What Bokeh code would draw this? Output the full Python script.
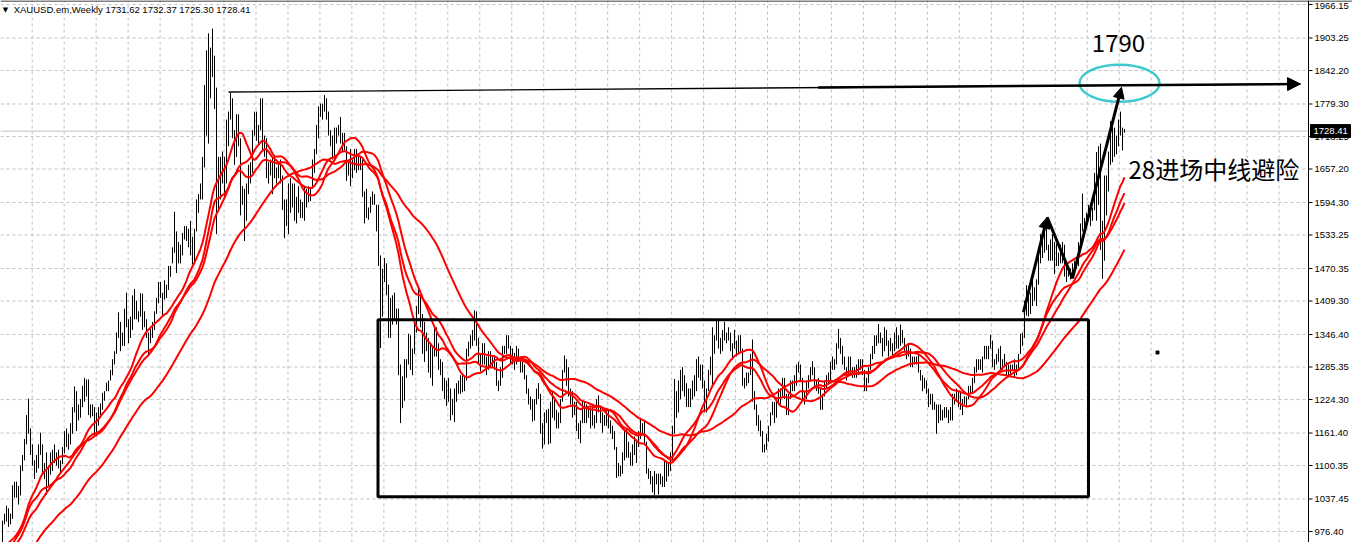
import numpy as np
import pandas as pd
from bokeh.plotting import figure
from bokeh.models import Range1d, Arrow, NormalHead
from bokeh.core.properties import value
from bokeh.embed import file_html
from bokeh.resources import INLINE

# ---------------- data ----------------
symbol_title = "XAUUSD.em,Weekly"
last_ohlc = [1731.62, 1732.37, 1725.30, 1728.41]
price_ticks = [1966.15, 1903.25, 1842.20, 1779.30, 1718.25, 1657.20, 1594.30, 1533.25,
               1470.35, 1409.30, 1346.40, 1285.35, 1224.30, 1161.40, 1100.35, 1037.45, 976.40]

# weekly closes before the first visible bar (only feed the moving averages)
pre_close = [960, 955, 925, 910, 865, 795, 835, 830, 800, 760, 865, 885,
             840, 900, 810, 790, 730, 740, 745, 790, 815, 775, 825, 840, 865, 880,
             855, 840, 850, 895, 920, 915, 940, 990, 985, 940, 925, 955, 925,
             895, 880, 870, 910, 915, 930, 960, 980, 960, 935, 935, 940,
             930, 915, 935, 950, 955, 955, 945, 940, 950]

high = [
    997, 1010, 1025, 1020, 1010, 1063, 1070, 1070, 1062, 1100, 1120, 1150, 1195, 1226, 1170, 1140, 1110, 1120,
    1140, 1162, 1140, 1105, 1125, 1100, 1125, 1130, 1140, 1125, 1130, 1110, 1135, 1165, 1170, 1160, 1180, 1210,
    1249, 1240, 1215, 1225, 1250, 1265, 1262, 1262, 1215, 1215, 1210, 1200, 1210, 1217, 1237, 1240, 1256, 1260,
    1280, 1300, 1315, 1350, 1388, 1370, 1350, 1395, 1425, 1375, 1380, 1420, 1432, 1410, 1390, 1424,
    1423, 1390, 1375, 1350, 1360, 1370, 1390, 1415, 1445, 1445, 1425, 1448, 1440, 1475, 1475, 1510, 1577, 1540,
    1520, 1515, 1537, 1550, 1550, 1545, 1560, 1530, 1545, 1600, 1610, 1630, 1680, 1815, 1880, 1912, 1885, 1921,
    1870, 1810, 1680, 1680, 1690, 1680, 1750, 1765, 1800, 1790, 1730, 1760, 1760, 1715, 1625, 1620,
    1630, 1665, 1670, 1730, 1765, 1765, 1740, 1790, 1790, 1720, 1715, 1670, 1675, 1680, 1680, 1660, 1665, 1675,
    1645, 1600, 1600, 1630, 1640, 1630, 1630, 1605, 1625, 1600, 1595, 1625, 1620, 1625, 1620, 1675, 1695, 1740,
    1775, 1780, 1780, 1796, 1790, 1765, 1730, 1720, 1735, 1735, 1740, 1755, 1725, 1725, 1700, 1670, 1695,
    1675, 1695, 1695, 1680, 1680, 1675, 1615, 1620, 1585, 1605, 1615, 1610, 1590, 1590, 1495, 1470, 1490, 1480,
    1440, 1415, 1420, 1425, 1395, 1395, 1290, 1268, 1300, 1300, 1348, 1345, 1320, 1375, 1400, 1433, 1420, 1385,
    1370, 1350, 1340, 1330, 1325, 1360, 1360, 1330, 1300, 1295, 1265, 1260, 1265, 1245, 1225, 1245,
    1255, 1260, 1270, 1270, 1270, 1320, 1333, 1345, 1355, 1392, 1390, 1340, 1310, 1330, 1330, 1305, 1315, 1315,
    1305, 1305, 1295, 1260, 1285, 1325, 1325, 1345, 1345, 1325, 1320, 1312, 1325, 1320, 1305, 1295, 1290, 1270,
    1245, 1230, 1225, 1225, 1245, 1255, 1235, 1180, 1200, 1205, 1207, 1220, 1238, 1225, 1205, 1200,
    1225, 1280, 1307, 1300, 1285, 1245, 1240, 1220, 1220, 1180, 1185, 1220, 1220, 1215, 1210, 1210, 1215, 1195,
    1225, 1232, 1210, 1200, 1195, 1205, 1205, 1185, 1175, 1165, 1135, 1105, 1100, 1125, 1165, 1170, 1145, 1125,
    1140, 1155, 1145, 1165, 1190, 1180, 1185, 1145, 1095, 1090, 1080, 1090, 1085, 1085, 1085, 1080,
    1110, 1105, 1105, 1125, 1175, 1263, 1240, 1260, 1280, 1285, 1270, 1255, 1245, 1245, 1260, 1270, 1300, 1305,
    1290, 1290, 1260, 1245, 1280, 1305, 1360, 1345, 1375, 1375, 1340, 1355, 1370, 1350, 1360, 1350, 1330, 1355,
    1335, 1345, 1345, 1320, 1265, 1275, 1275, 1310, 1337, 1240, 1215, 1195, 1185, 1165, 1140, 1160,
    1175, 1200, 1220, 1220, 1225, 1245, 1245, 1265, 1265, 1235, 1235, 1260, 1260, 1270, 1290, 1295, 1290, 1265,
    1240, 1260, 1270, 1285, 1296, 1285, 1260, 1265, 1245, 1235, 1260, 1270, 1275, 1295, 1305, 1300, 1330, 1357,
    1340, 1325, 1305, 1285, 1305, 1305, 1285, 1285, 1290, 1300, 1300, 1300, 1280, 1265, 1285, 1310,
    1325, 1345, 1345, 1366, 1350, 1340, 1360, 1355, 1335, 1340, 1330, 1350, 1360, 1345, 1365, 1355, 1340, 1325,
    1330, 1320, 1305, 1305, 1305, 1310, 1280, 1270, 1265, 1260, 1245, 1235, 1235, 1220, 1215, 1215, 1215, 1205,
    1210, 1210, 1205, 1210, 1235, 1235, 1245, 1240, 1237, 1225, 1230, 1230, 1250, 1250, 1265, 1285,
    1300, 1300, 1300, 1305, 1325, 1325, 1325, 1346, 1335, 1300, 1310, 1320, 1325, 1300, 1310, 1295, 1290, 1290,
    1290, 1300, 1290, 1310, 1348, 1350, 1410, 1439, 1437, 1425, 1453, 1435, 1450, 1510, 1535, 1530, 1550, 1557,
    1515, 1525, 1535, 1520, 1517, 1500, 1515, 1520, 1515, 1475, 1475, 1470, 1480, 1485, 1485, 1520,
    1555, 1611, 1565, 1575, 1590, 1590, 1585, 1650, 1689, 1700, 1705, 1560, 1645, 1645, 1690, 1747, 1740, 1735,
    1720, 1750, 1765, 1735, 1732.37]

low = [
    951, 990, 995, 985, 990, 1000, 1040, 1040, 1027, 1044, 1090, 1110, 1140, 1160, 1120, 1100, 1075, 1087,
    1095, 1120, 1086, 1075, 1045, 1060, 1083, 1090, 1105, 1100, 1095, 1088, 1103, 1123, 1135, 1130, 1140, 1160,
    1200, 1165, 1185, 1190, 1210, 1220, 1230, 1195, 1190, 1193, 1157, 1155, 1175, 1190, 1205, 1222, 1240, 1240,
    1260, 1270, 1290, 1310, 1340, 1315, 1325, 1325, 1360, 1330, 1340, 1355, 1375, 1375, 1370, 1380,
    1355, 1360, 1340, 1308, 1330, 1340, 1355, 1385, 1405, 1415, 1380, 1412, 1415, 1430, 1455, 1480, 1500, 1462,
    1480, 1480, 1495, 1525, 1522, 1510, 1495, 1478, 1480, 1540, 1575, 1600, 1600, 1660, 1720, 1705, 1790, 1830,
    1770, 1535, 1580, 1600, 1630, 1605, 1630, 1700, 1750, 1715, 1665, 1680, 1700, 1570, 1590, 1522,
    1560, 1610, 1630, 1650, 1720, 1710, 1705, 1730, 1690, 1680, 1640, 1630, 1645, 1610, 1640, 1630, 1640, 1630,
    1580, 1527, 1550, 1535, 1575, 1585, 1560, 1555, 1575, 1565, 1565, 1560, 1585, 1595, 1597, 1620, 1650, 1685,
    1715, 1755, 1750, 1765, 1750, 1720, 1700, 1675, 1675, 1705, 1720, 1705, 1690, 1690, 1635, 1645, 1625,
    1640, 1655, 1650, 1655, 1655, 1605, 1555, 1565, 1562, 1575, 1590, 1590, 1540, 1475, 1321, 1380, 1445, 1420,
    1340, 1340, 1365, 1375, 1365, 1270, 1180, 1208, 1222, 1265, 1290, 1280, 1270, 1310, 1350, 1385, 1360, 1310,
    1295, 1315, 1275, 1265, 1250, 1305, 1305, 1280, 1270, 1240, 1225, 1212, 1220, 1185, 1195, 1182,
    1220, 1235, 1235, 1238, 1240, 1260, 1305, 1320, 1325, 1335, 1325, 1290, 1277, 1290, 1290, 1270, 1280, 1285,
    1285, 1280, 1250, 1240, 1250, 1265, 1310, 1310, 1320, 1290, 1290, 1280, 1290, 1300, 1275, 1275, 1262, 1235,
    1215, 1205, 1183, 1185, 1215, 1225, 1160, 1132, 1140, 1180, 1140, 1142, 1190, 1185, 1170, 1170,
    1180, 1220, 1275, 1250, 1230, 1215, 1190, 1195, 1165, 1150, 1142, 1180, 1180, 1180, 1190, 1170, 1175, 1170,
    1180, 1200, 1180, 1162, 1175, 1175, 1170, 1160, 1150, 1130, 1077, 1080, 1080, 1085, 1110, 1115, 1115, 1100,
    1100, 1120, 1105, 1135, 1150, 1160, 1140, 1085, 1075, 1065, 1050, 1045, 1065, 1046, 1065, 1060,
    1060, 1070, 1080, 1090, 1110, 1160, 1190, 1200, 1225, 1240, 1230, 1210, 1210, 1210, 1225, 1230, 1240, 1265,
    1260, 1245, 1200, 1200, 1240, 1270, 1250, 1310, 1335, 1320, 1310, 1315, 1335, 1330, 1335, 1315, 1300, 1320,
    1305, 1310, 1315, 1250, 1245, 1250, 1255, 1270, 1220, 1205, 1175, 1165, 1155, 1125, 1125, 1130,
    1145, 1175, 1195, 1180, 1190, 1215, 1215, 1230, 1225, 1195, 1195, 1225, 1240, 1240, 1250, 1275, 1260, 1225,
    1215, 1225, 1245, 1260, 1270, 1250, 1240, 1235, 1205, 1205, 1230, 1245, 1255, 1260, 1280, 1280, 1290, 1320,
    1310, 1290, 1280, 1260, 1270, 1275, 1265, 1265, 1265, 1270, 1280, 1270, 1240, 1240, 1255, 1280,
    1300, 1310, 1325, 1330, 1330, 1305, 1315, 1325, 1305, 1315, 1305, 1315, 1320, 1320, 1325, 1330, 1315, 1300,
    1305, 1285, 1285, 1290, 1290, 1275, 1260, 1240, 1245, 1235, 1210, 1215, 1205, 1205, 1160, 1180, 1185, 1185,
    1190, 1190, 1180, 1185, 1185, 1215, 1220, 1210, 1205, 1195, 1215, 1210, 1225, 1235, 1235, 1255,
    1275, 1280, 1280, 1275, 1300, 1300, 1300, 1320, 1285, 1280, 1290, 1295, 1280, 1280, 1285, 1270, 1266, 1266,
    1280, 1265, 1270, 1280, 1310, 1325, 1340, 1382, 1380, 1385, 1400, 1410, 1400, 1440, 1480, 1490, 1500, 1505,
    1485, 1485, 1485, 1460, 1475, 1475, 1480, 1480, 1455, 1445, 1455, 1450, 1455, 1460, 1470, 1475,
    1515, 1540, 1535, 1550, 1560, 1550, 1560, 1580, 1560, 1590, 1505, 1451, 1485, 1570, 1615, 1665, 1670, 1680,
    1685, 1700, 1720, 1692, 1725.30]

# hand-drawn annotations (bar index, price)
box_bars = [187.75, 543.0]
box_prices = [1041.6, 1374.0]
resist_bars = [113.0, 649.0]
resist_prices = [1801.8, 1816.9]
swing_bars = [510.5, 522.35, 535.0, 559.5]
swing_prices = [1388.3, 1566.7, 1451.6, 1810.8]
circle_center = [558.5, 1818.3]
circle_size = [40.0, 69.5]
label_1790_pos = [558.0, 1893.0]
note_pos = [563.0, 1658.2]
dot_pos = [577.5, 1312.6]

# ---------------- derived series ----------------
n = len(high)
idx = np.arange(n)
hi = np.array(high, dtype=float)
lo = np.array(low, dtype=float)
mid = (hi + lo) / 2.0
full = pd.Series(list(pre_close) + list(mid), dtype=float)
npre = len(pre_close)
sma20 = full.rolling(20).mean().values[npre:]
sma30 = full.rolling(30).mean().values[npre:]
ema30 = full.ewm(span=30, adjust=False).mean().values[npre:]
sma60 = full.rolling(60).mean().values[npre:]

# ---------------- figure ----------------
X0, X1 = -1.0, 675.0          # bar-index range across the whole canvas (2 px per bar)
Y0, Y1 = 955.79, 1973.66      # price range (about 1.878 per px)
AXIS_X = 653.0                # price scale border
PX = (Y1 - Y0) / 542.0        # price per pixel

p = figure(width=1352, height=542, x_range=Range1d(X0, X1), y_range=Range1d(Y0, Y1),
           output_backend="svg", toolbar_location=None,
           x_axis_location=None, y_axis_location=None,
           min_border_left=0, min_border_right=0, min_border_top=0, min_border_bottom=0)
p.grid.visible = False
p.outline_line_color = None
p.background_fill_color = "white"
p.border_fill_color = "white"

# dashed grid
grid_x = [14.85 + 15.985 * k for k in range(41) if 14.85 + 15.985 * k < AXIS_X]
p.segment(x0=grid_x, y0=[Y0] * len(grid_x), x1=grid_x, y1=[Y1] * len(grid_x),
          line_color="#c0c0c0", line_width=1, line_dash="3 3")
p.segment(x0=[X0] * len(price_ticks), y0=price_ticks, x1=[AXIS_X] * len(price_ticks), y1=price_ticks,
          line_color="#c0c0c0", line_width=1, line_dash="3 3")

# last price line
p.segment(x0=[X0], y0=[last_ohlc[3]], x1=[AXIS_X], y1=[last_ohlc[3]], line_color="#c0c0c0", line_width=1)

# price bars
p.segment(x0=idx, y0=lo, x1=idx, y1=hi, line_color="black", line_width=1)

# moving averages
for ma in (sma60, ema30, sma30, sma20):
    p.line(idx, ma, line_color="#ff0000", line_width=2)

# consolidation box
p.quad(left=[box_bars[0]], right=[box_bars[1]], bottom=[box_prices[0]], top=[box_prices[1]],
       fill_color=None, line_color="black", line_width=3)

# resistance line with arrow (thin from the left, heavier towards the arrow)
p.segment(x0=[resist_bars[0]], y0=[resist_prices[0]], x1=[resist_bars[1]], y1=[resist_prices[1]],
          line_color="black", line_width=1.3)
t = 0.55
rx = resist_bars[0] + t * (resist_bars[1] - resist_bars[0])
ry = resist_prices[0] + t * (resist_prices[1] - resist_prices[0])
p.add_layout(Arrow(end=NormalHead(size=13, fill_color="black", line_color="black"),
                   x_start=rx, y_start=ry, x_end=resist_bars[1], y_end=resist_prices[1],
                   line_color="black", line_width=2.5))

# swing arrows
p.add_layout(Arrow(end=NormalHead(size=11, fill_color="black", line_color="black"),
                   x_start=swing_bars[0], y_start=swing_prices[0],
                   x_end=swing_bars[1], y_end=swing_prices[1],
                   line_color="black", line_width=3))
p.line(swing_bars[1:3], swing_prices[1:3], line_color="black", line_width=3)
p.add_layout(Arrow(end=NormalHead(size=11, fill_color="black", line_color="black"),
                   x_start=swing_bars[2], y_start=swing_prices[2],
                   x_end=swing_bars[3], y_end=swing_prices[3],
                   line_color="black", line_width=3))

# target ellipse
p.ellipse(x=[circle_center[0]], y=[circle_center[1]], width=circle_size[0], height=circle_size[1],
          fill_color=None, line_color="#3ec9cf", line_width=2.5)

p.scatter(x=[dot_pos[0]], y=[dot_pos[1]], marker="square", size=3, color="black")

p.text(x=[label_1790_pos[0]], y=[label_1790_pos[1]], text=["1790"],
       text_align="center", text_baseline="middle",
       text_font=value("Noto Sans CJK SC"), text_font_size="24px", text_color="black")
p.text(x=[note_pos[0]], y=[note_pos[1]], text=["28进场中线避险"],
       text_align="left", text_baseline="middle",
       text_font=value("Noto Sans CJK SC"), text_font_size="24px", text_color="black")

# header
hdr_y = Y1 - 9 * PX
p.text(x=[1.5], y=[hdr_y], text=["▼"], text_align="center", text_baseline="middle",
       text_font=value("DejaVu Sans"), text_font_size="7px", text_color="black")
p.text(x=[5.6], y=[hdr_y],
       text=[symbol_title + "  " + " ".join("%.2f" % v for v in last_ohlc)],
       text_align="left", text_baseline="middle",
       text_font=value("Liberation Sans"), text_font_size="9.5px", text_color="black")

# top border
p.segment(x0=[X0], y0=[Y1 - 0.5 * PX], x1=[X1], y1=[Y1 - 0.5 * PX], line_color="black", line_width=1)

# price scale on the right
p.segment(x0=[AXIS_X], y0=[Y0], x1=[AXIS_X], y1=[Y1], line_color="black", line_width=1)
p.segment(x0=[AXIS_X] * len(price_ticks), y0=price_ticks,
          x1=[AXIS_X + 2.0] * len(price_ticks), y1=price_ticks, line_color="black", line_width=1)
tick_text = ["%.2f" % v for v in price_ticks]
p.text(x=[AXIS_X + 3.0], y=[price_ticks[0]], text=[tick_text[0]], y_offset=2,
       text_align="left", text_baseline="middle",
       text_font=value("Liberation Sans"), text_font_size="9.5px", text_color="black")
p.text(x=[AXIS_X + 3.0] * (len(price_ticks) - 1), y=price_ticks[1:], text=tick_text[1:],
       text_align="left", text_baseline="middle",
       text_font=value("Liberation Sans"), text_font_size="9.5px", text_color="black")

# current price tag
p.quad(left=[AXIS_X + 1.0], right=[AXIS_X + 21.0],
       bottom=[last_ohlc[3] - 6.5 * PX], top=[last_ohlc[3] + 6.5 * PX],
       fill_color="black", line_color="black")
p.text(x=[AXIS_X + 2.5], y=[last_ohlc[3]], text=["%.2f" % last_ohlc[3]],
       text_align="left", text_baseline="middle",
       text_font=value("Liberation Sans"), text_font_size="9.5px", text_color="white")

open("out.html", "w").write(file_html(p, INLINE))
